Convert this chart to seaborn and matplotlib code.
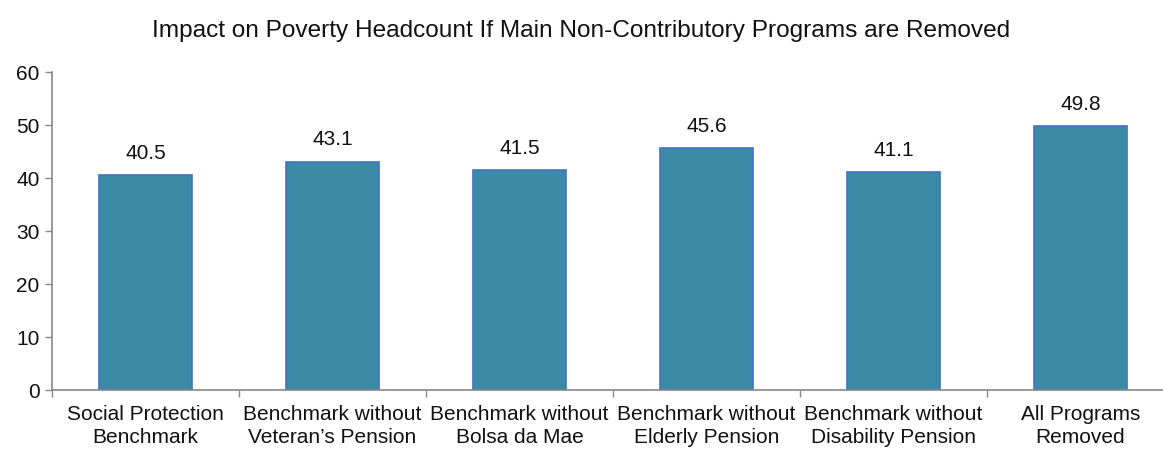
import matplotlib
matplotlib.use("Agg")
import matplotlib.pyplot as plt
import seaborn as sns
import pandas as pd

categories = [
    "Social Protection\nBenchmark",
    "Benchmark without\nVeteran\u2019s Pension",
    "Benchmark without\nBolsa da Mae",
    "Benchmark without\nElderly Pension",
    "Benchmark without\nDisability Pension",
    "All Programs\nRemoved",
]
headcount = [40.5, 43.1, 41.5, 45.6, 41.1, 49.8]
y_ticks = [0, 10, 20, 30, 40, 50, 60]
title = "Impact on Poverty Headcount If Main Non-Contributory Programs are Removed"

sns.set_theme(style="white")
plt.rcParams["font.family"] = ["Liberation Sans", "DejaVu Sans"]

df = pd.DataFrame({"category": categories, "value": headcount})

fig = plt.figure(figsize=(11.63, 4.49), dpi=100)
ax = fig.add_axes([0.0447, 0.1314, 0.9647, 0.7082])

sns.barplot(data=df, x="category", y="value", ax=ax, color="#3A8AA5",
            saturation=1, width=0.5, edgecolor="#4472C4", linewidth=1.2)

for i, v in enumerate(headcount):
    ax.text(i, v + 2.3, f"{v:.1f}", ha="center", va="bottom", fontsize=15, color="#111111")

ax.set_ylim(0, 60)
ax.set_xlim(-0.5, len(categories) - 0.5)
ax.set_yticks(y_ticks)
ax.set_yticklabels([str(t) for t in y_ticks], fontsize=15, color="#111111")
ax.set_xticks(range(len(categories)))
ax.set_xticklabels(categories, fontsize=15, color="#111111", linespacing=1.22)
ax.tick_params(axis="x", length=0, pad=11)
ax.tick_params(axis="y", length=5, width=1, color="#888888", direction="out", left=True, pad=4)

# boundary ticks between categories on the x axis
ax.set_xticks([i + 0.5 for i in range(-1, len(categories))], minor=True)
ax.tick_params(axis="x", which="minor", length=5, width=1, color="#888888", direction="out", bottom=True)

ax.set_xlabel("")
ax.set_ylabel("")
for side in ["top", "right"]:
    ax.spines[side].set_visible(False)
for side in ["left", "bottom"]:
    ax.spines[side].set_color("#888888")
    ax.spines[side].set_linewidth(1.2)

fig.text(0.5, 0.93, title, ha="center", va="center", fontsize=17.6, color="#111111")

fig.savefig("out.png", dpi=100)
